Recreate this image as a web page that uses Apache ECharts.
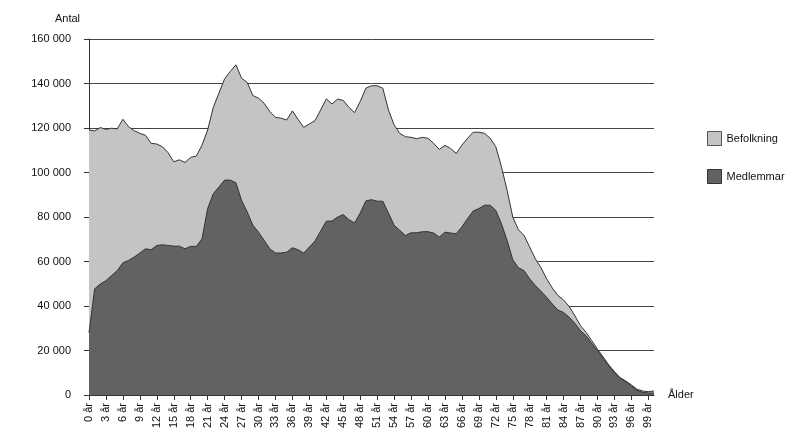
<!DOCTYPE html>
<html>
<head>
<meta charset="utf-8">
<script src="https://cdn.jsdelivr.net/npm/echarts@6/dist/echarts.min.js"></script>
<style>html,body{margin:0;padding:0;background:#fff}#c{width:795px;height:448px}</style>
</head>
<body>
<div id="c"></div>
<script>
const ages = Array.from({length: 101}, (_, i) => i + ' år');
const befolkning = [
  119100,118700,120200,119400,119900,119600,123900,120600,118800,117600,
  116700,113100,112800,111600,108900,104800,105700,104500,106800,107400,
  112300,119100,129300,135700,142100,145400,148400,142400,140500,134600,
  133400,131100,127400,124800,124400,123600,127700,123900,120300,121800,
  123300,128100,133100,130800,133000,132400,129300,126900,131900,137900,
  139000,139000,137900,128100,121400,117600,116100,115800,115200,115800,
  115400,113100,110400,112200,110800,108600,112300,115400,118100,118100,
  117600,115400,111600,102600,92000,80000,74300,71700,66500,61200,
  57200,52200,48100,44700,42700,39700,35600,31100,28100,24400,
  20600,17100,13500,10500,7800,6300,4500,2600,1800,1500,
  1800
];
const medlemmar = [
  28000,47700,49900,51400,53700,55900,59400,60500,62000,63800,
  65700,65300,67200,67500,67200,66900,66900,65700,66800,66800,
  70200,83800,90500,93500,96600,96600,95400,87500,82300,76300,
  73200,69500,65700,63800,63800,64200,66200,65300,63800,66500,
  69200,73700,78100,78200,80000,81100,78800,77300,81800,87200,
  87800,87100,87100,81800,76300,74000,71700,72900,72900,73400,
  73400,72800,71000,73200,72800,72500,75500,79300,82700,83800,
  85300,85300,83000,77000,69500,60800,57200,55900,52200,49200,
  46600,43900,40900,38200,37100,34900,32200,28900,26600,23200,
  19900,16400,13100,10100,7500,6000,4100,2100,1200,900,
  900
];
const seriesNames = ['Befolkning', 'Medlemmar'];
const yTicks = [0, 20000, 40000, 60000, 80000, 100000, 120000, 140000, 160000];

const font = 'Liberation Sans, Arial, sans-serif';
const fmt = v => String(v).replace(/\B(?=(\d{3})+(?!\d))/g, ' ');
const chart = echarts.init(document.getElementById('c'), null, {renderer: 'canvas'});
chart.setOption({
  animation: false,
  backgroundColor: '#fff',
  textStyle: {fontFamily: font},
  grid: {left: 89, right: 141, top: 39, bottom: 53, containLabel: false},
  legend: {
    orient: 'vertical', left: 707, top: 131, padding: 0, itemWidth: 14, itemHeight: 14, itemGap: 23,
    icon: 'rect',
    textStyle: {fontFamily: font, fontSize: 11, color: '#111'},
    data: [
      {name: seriesNames[0], itemStyle: {color: '#c4c4c4', borderColor: '#555', borderWidth: 1}},
      {name: seriesNames[1], itemStyle: {color: '#626262', borderColor: '#333', borderWidth: 1}}
    ]
  },
  xAxis: {
    type: 'category', data: ages, boundaryGap: false,
    name: 'Ålder', nameLocation: 'end', nameGap: 14,
    nameTextStyle: {fontFamily: font, fontSize: 11, color: '#111', verticalAlign: 'middle', padding: [5, 0, 0, 0]},
    axisLine: {lineStyle: {color: '#333', width: 1}},
    axisTick: {show: true, interval: 2, length: 5, lineStyle: {color: '#333'}},
    axisLabel: {interval: 2, rotate: 90, margin: 8, fontSize: 11, color: '#111', fontFamily: font},
    splitLine: {show: false}
  },
  yAxis: {
    type: 'value', min: 0, max: 160000, interval: 20000,
    name: 'Antal', nameLocation: 'end', nameGap: 15,
    nameTextStyle: {fontFamily: font, fontSize: 11, color: '#111', align: 'right', padding: [0, 9, 0, 0]},
    axisLine: {show: true, lineStyle: {color: '#333', width: 1}},
    axisTick: {show: true, length: 5, lineStyle: {color: '#333'}},
    axisLabel: {margin: 18, fontSize: 11, color: '#111', fontFamily: font, formatter: v => fmt(v)},
    splitLine: {show: true, lineStyle: {color: '#444', width: 1}}
  },
  series: [
    {
      name: seriesNames[0], type: 'line', data: befolkning, showSymbol: false, symbol: 'none',
      lineStyle: {color: '#333', width: 1}, itemStyle: {color: '#c4c4c4'},
      areaStyle: {color: '#c4c4c4', opacity: 1}, z: 2
    },
    {
      name: seriesNames[1], type: 'line', data: medlemmar, showSymbol: false, symbol: 'none',
      lineStyle: {color: '#333', width: 1}, itemStyle: {color: '#626262'},
      areaStyle: {color: '#626262', opacity: 1}, z: 3
    }
  ]
});
</script>
</body>
</html>
